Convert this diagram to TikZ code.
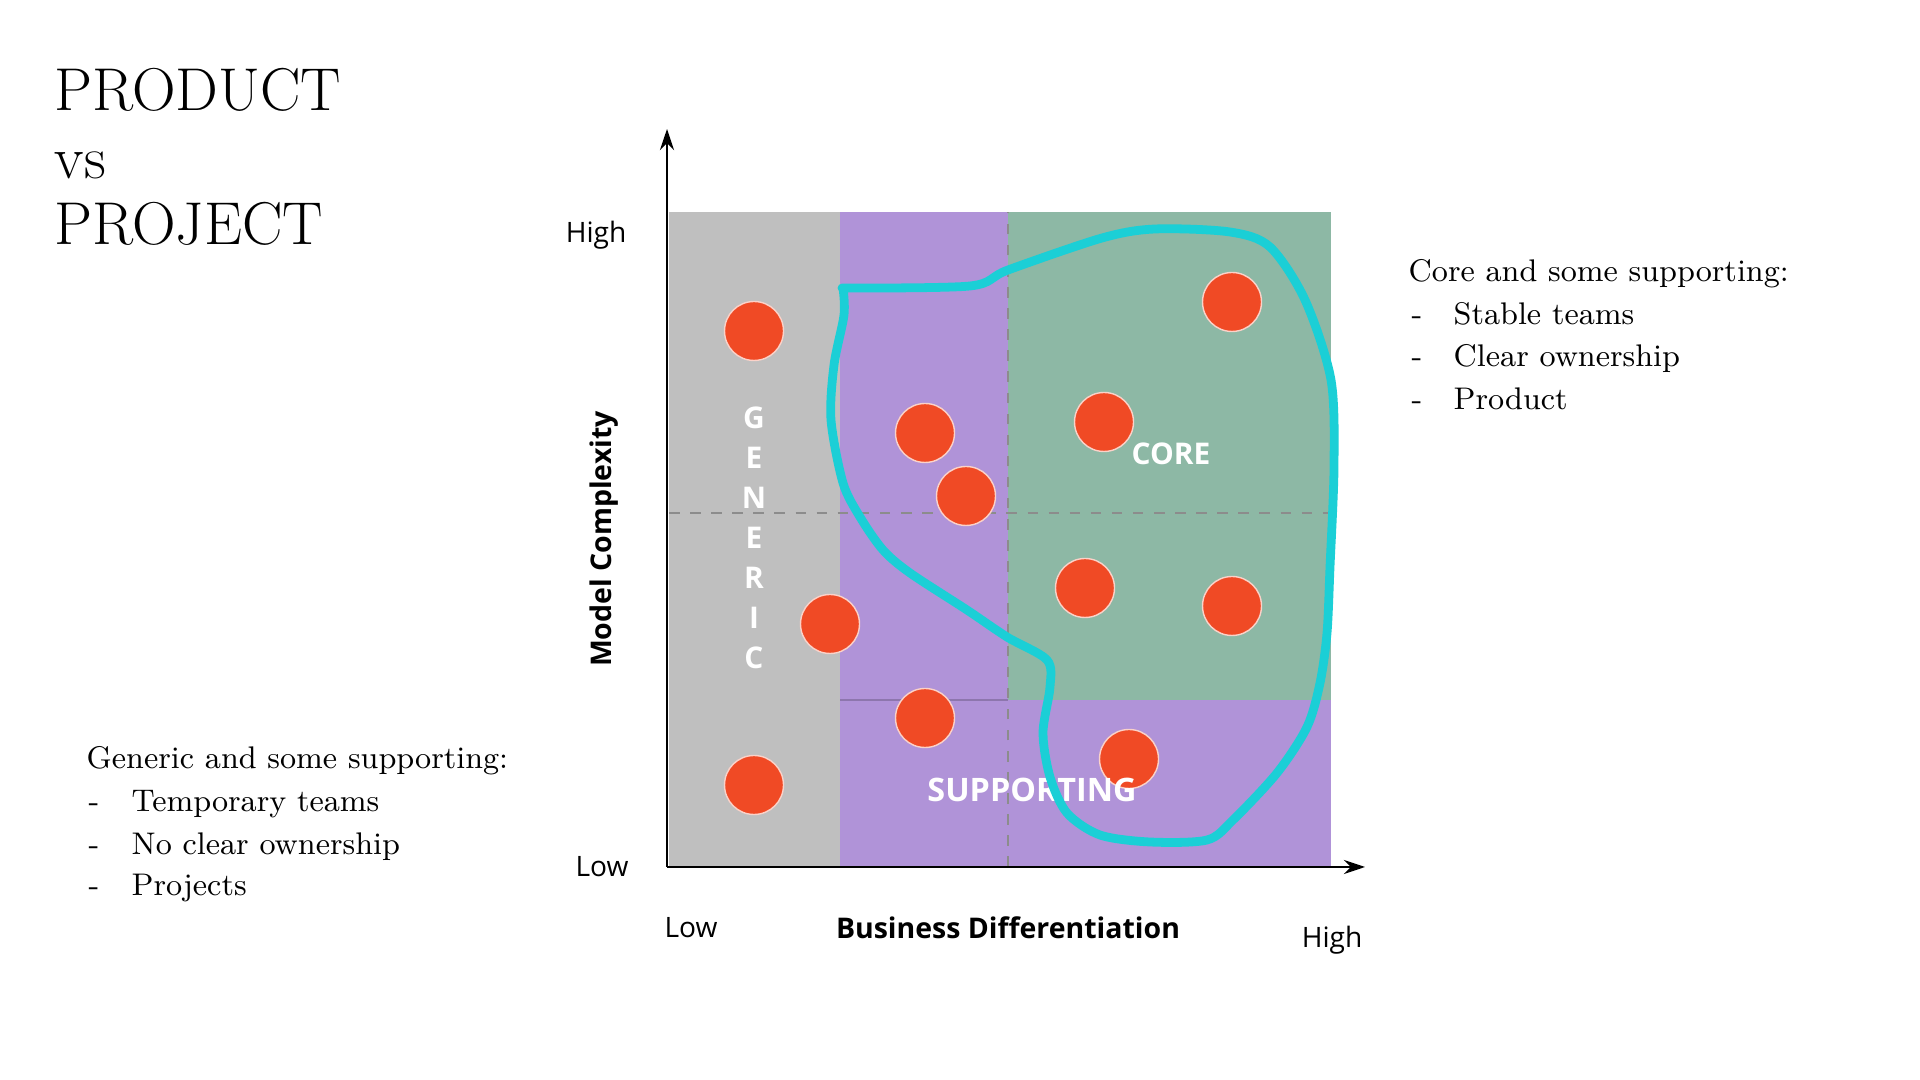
\documentclass[tikz,border=0pt]{standalone}
\usepackage{fontspec}
\setsansfont{Open Sans}
\usetikzlibrary{arrows.meta}
\definecolor{genericgray}{RGB}{191,191,191}
\definecolor{supportpurple}{RGB}{176,147,216}
\definecolor{coregreen}{RGB}{141,184,165}
\definecolor{dotred}{RGB}{240,74,37}
\definecolor{blobcyan}{RGB}{27,207,214}
\tikzset{
  headline/.style={anchor=base west, inner sep=0pt, font=\fontsize{17.2}{19}\selectfont},
  note/.style={anchor=base west, inner sep=0pt, font=\fontsize{8.9}{11}\selectfont},
  axistext/.style={inner sep=0pt, font=\sffamily\fontsize{8}{9}\selectfont},
  axistitle/.style={inner sep=0pt, font=\sffamily\bfseries\fontsize{8.1}{9}\selectfont},
  zonetext/.style={inner sep=0pt, text=white, font=\sffamily\bfseries\fontsize{8.5}{10}\selectfont},
  dot/.style={circle, fill=dotred, draw=white!75!dotred, line width=0.4pt, minimum size=0.59cm, inner sep=0pt}
}
\begin{document}
\begin{tikzpicture}
\path[use as bounding box, fill=white] (0,0) rectangle (19.2,10.8);
%draw title
\node[headline] (ttl1) at (0.54,9.69) {PRODUCT};
\node[headline] (ttl2) at (0.54,9.01) {vs};
\node[headline] (ttl3) at (0.54,8.35) {PROJECT};
%draw zones
\fill[genericgray] (6.69,2.13) rectangle (8.40,8.68);
\fill[supportpurple] (8.40,2.13) rectangle (13.31,8.68);
\fill[coregreen] (10.08,3.80) rectangle (13.31,8.68);
\draw[supportpurple!80!black, line width=0.3pt] (8.40,3.80) -- (10.08,3.80);
\draw[black!45, dashed, line width=0.5pt] (6.69,5.67) -- (13.31,5.67);
\draw[black!45, dashed, line width=0.5pt] (10.08,2.13) -- (10.08,8.68);
%draw axes
\coordinate (orig) at (6.67,2.13);
\coordinate (ytop) at (6.67,9.51);
\coordinate (xend) at (13.65,2.13);
\draw[line width=0.7pt, -{Stealth[length=6pt,width=4pt]}] (orig) -- (ytop);
\draw[line width=0.7pt, -{Stealth[length=6pt,width=4pt]}] (orig) -- (xend);
%draw axis labels
\node[axistext] (yhigh) at (5.96,8.45) {High};
\node[axistext] (ylow) at (6.02,2.13) {Low};
\node[axistext] (xlow) at (6.91,1.52) {Low};
\node[axistext] (xhigh) at (13.32,1.40) {High};
\node[axistitle] (xtitle) at (10.08,1.52) {Business Differentiation};
\node[axistitle, rotate=90] (ytitle) at (6.04,5.41) {Model Complexity};
%draw dots
\node[dot] (d1) at (7.54,7.49) {};
\node[dot] (d2) at (9.25,6.47) {};
\node[dot] (d3) at (9.66,5.84) {};
\node[dot] (d4) at (11.04,6.58) {};
\node[dot] (d5) at (12.32,7.78) {};
\node[dot] (d6) at (8.30,4.56) {};
\node[dot] (d7) at (10.85,4.92) {};
\node[dot] (d8) at (12.32,4.74) {};
\node[dot] (d9) at (9.25,3.62) {};
\node[dot] (d10) at (11.29,3.21) {};
\node[dot] (d11) at (7.54,2.95) {};
%draw zone names
\node[zonetext] (gen) at (7.54,5.42) {\shortstack[c]{G\\[2.3pt]E\\[2.3pt]N\\[2.3pt]E\\[2.3pt]R\\[2.3pt]I\\[2.3pt]C}};
\node[zonetext] (core) at (11.71,6.26) {CORE};
\node[zonetext, font=\sffamily\bfseries\fontsize{9.2}{10}\selectfont] (supp) at (10.32,2.90) {SUPPORTING};
%draw hand drawn outline
\draw[blobcyan, line width=2.5pt, line join=round, line cap=round] plot[smooth, tension=0.5] coordinates {
  (8.42,7.92) (9.70,7.94) (10.08,8.10) (11.02,8.42) (11.55,8.51) (12.30,8.48)
  (12.70,8.33) (13.05,7.80) (13.31,7.00) (13.34,6.13) (13.30,5.13) (13.27,4.47)
  (13.20,3.97) (13.07,3.53) (12.77,3.07) (12.33,2.60) (12.07,2.40) (11.50,2.38)
  (11.00,2.45) (10.67,2.67) (10.50,3.03) (10.43,3.47) (10.50,3.93) (10.47,4.20)
  (10.07,4.43) (9.67,4.70) (9.10,5.07) (8.83,5.30) (8.60,5.63) (8.43,5.97)
  (8.31,6.60) (8.34,7.15) (8.44,7.65) (8.43,7.92)};
%draw right notes
\node[note] (rhead) at (14.08,7.98) {Core and some supporting:};
\node[note] (rdash1) at (14.11,7.55) {-};
\node[note] (ritem1) at (14.53,7.55) {Stable teams};
\node[note] (rdash2) at (14.11,7.13) {-};
\node[note] (ritem2) at (14.53,7.13) {Clear ownership};
\node[note] (rdash3) at (14.11,6.70) {-};
\node[note] (ritem3) at (14.53,6.70) {Product};
%draw left notes
\node[note] (lhead) at (0.86,3.11) {Generic and some supporting:};
\node[note] (ldash1) at (0.88,2.68) {-};
\node[note] (litem1) at (1.31,2.68) {Temporary teams};
\node[note] (ldash2) at (0.88,2.25) {-};
\node[note] (litem2) at (1.31,2.25) {No clear ownership};
\node[note] (ldash3) at (0.88,1.84) {-};
\node[note] (litem3) at (1.31,1.84) {Projects};
\end{tikzpicture}
\end{document}
